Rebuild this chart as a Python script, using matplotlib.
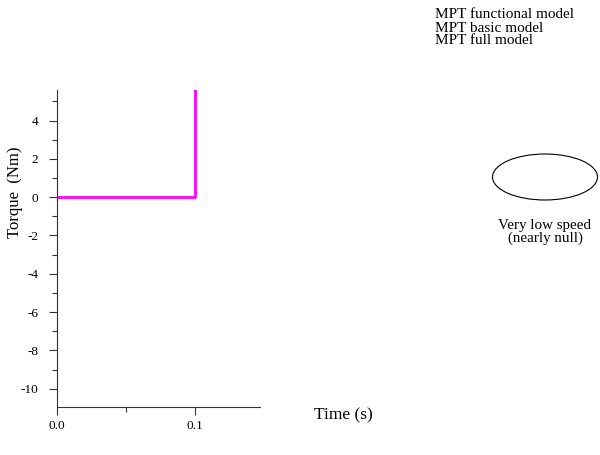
import matplotlib
matplotlib.use('Agg')
import matplotlib.pyplot as plt
from matplotlib.patches import Ellipse
from matplotlib.ticker import MultipleLocator, FormatStrFormatter

plt.rcParams['font.family'] = ['Liberation Serif', 'DejaVu Serif']
plt.rcParams['axes.unicode_minus'] = False

# torque step at t = 0.1 s
time_s = [0.0, 0.1, 0.1]
torque = [0.0, 0.0, 20.0]

legend_labels = ['MPT functional model', 'MPT basic model', 'MPT full model']
note = 'Very low speed\n(nearly null)'

fig = plt.figure(figsize=(6, 4.55), dpi=100)
ax = fig.add_axes([0.095, 0.1055, 0.338, 0.697])

ax.plot(time_s, torque, color='#ff00ff', lw=2)

ax.set_xlim(0, 0.147)
ax.set_ylim(-10.95, 5.6)
ax.xaxis.set_major_locator(MultipleLocator(0.1))
ax.xaxis.set_minor_locator(MultipleLocator(0.05))
ax.yaxis.set_major_locator(MultipleLocator(2))
ax.yaxis.set_minor_locator(MultipleLocator(1))
ax.xaxis.set_major_formatter(FormatStrFormatter('%.1f'))
ax.tick_params(which='both', direction='out', labelsize=9.5, width=0.8,
               color='#333333')
ax.tick_params(which='major', length=5.5)
ax.tick_params(which='minor', length=3.5)
ax.tick_params(axis='y', which='major', pad=8)
ax.tick_params(axis='x', which='major', pad=4)

for s in ['top', 'right']:
    ax.spines[s].set_visible(False)
for s in ['left', 'bottom']:
    ax.spines[s].set_color('#333333')

fig.text(15 / 600, 1 - 192 / 455, 'Torque  (Nm)', fontsize=12, rotation=90,
         ha='center', va='center')
fig.text(343 / 600, 1 - 415 / 455, 'Time (s)', fontsize=12.5, ha='center', va='center')

for i, lab in enumerate(legend_labels):
    fig.text(435 / 600, 1 - (15 + 13 * i) / 455, lab, fontsize=11, va='center')

ell = Ellipse((545 / 600, 1 - 177 / 455), 105 / 600, 46 / 455,
              transform=fig.transFigure, fill=False, lw=0.8, color='black')
fig.add_artist(ell)
fig.text(545 / 600, 1 - 232 / 455, note, fontsize=10.8, ha='center', va='center',
         linespacing=0.95)

fig.savefig('out.png', dpi=100)
